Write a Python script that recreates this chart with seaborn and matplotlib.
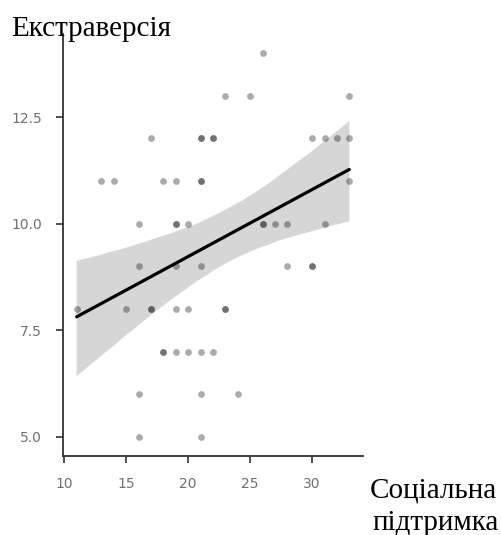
import numpy as np
import pandas as pd
import matplotlib
matplotlib.use("Agg")
import matplotlib.pyplot as plt
import seaborn as sns
from matplotlib.collections import PolyCollection

# Social support (x) and extraversion (y) scores, one entry per respondent
support = [26,
           23, 25, 33,
           17, 21, 21, 22, 22, 30, 31, 32, 33,
           13, 14, 18, 19, 21, 21, 33,
           16, 19, 19, 20, 26, 26, 27, 28, 31,
           16, 19, 21, 28, 30, 30,
           11, 15, 17, 17, 19, 20, 23, 23,
           18, 18, 19, 20, 21, 22,
           16, 21, 24,
           16, 21]
extraversion = [14,
                13, 13, 13,
                12, 12, 12, 12, 12, 12, 12, 12, 12,
                11, 11, 11, 11, 11, 11, 11,
                10, 10, 10, 10, 10, 10, 10, 10, 10,
                9, 9, 9, 9, 9, 9,
                8, 8, 8, 8, 8, 8, 8, 8,
                7, 7, 7, 7, 7, 7,
                6, 6, 6,
                5, 5]

x_ticks = [10, 15, 20, 25, 30]
y_ticks = [5.0, 7.5, 10.0, 12.5]

df = pd.DataFrame({"support": support, "extraversion": extraversion})

sns.set_theme(style="ticks")
fig = plt.figure(figsize=(5.02, 5.35), dpi=100)
ax = fig.add_axes([0.1255, 0.1477, 0.5975, 0.7887])

sns.regplot(data=df, x="support", y="extraversion", ax=ax, ci=98,
            n_boot=12000, seed=3,
            scatter_kws=dict(s=24, color="black", alpha=0.33, linewidths=0, zorder=3),
            line_kws=dict(color="black", lw=2.3, zorder=4))

for coll in ax.collections:
    if isinstance(coll, PolyCollection):
        coll.set_facecolor("#d6d6d6")
        coll.set_alpha(1)
        coll.set_edgecolor("none")
        coll.set_zorder(1)

ax.set_xlim(9.9, 34.1)
ax.set_ylim(4.55, 14.45)
ax.set_xticks(x_ticks)
ax.set_xticklabels([str(t) for t in x_ticks])
ax.set_yticks(y_ticks)
ax.set_yticklabels([f"{t:.1f}" for t in y_ticks])
ax.set_xlabel("")
ax.set_ylabel("")

for side in ("top", "right"):
    ax.spines[side].set_visible(False)
for side in ("left", "bottom"):
    ax.spines[side].set_color("#333333")
    ax.spines[side].set_linewidth(1.3)

ax.tick_params(axis="both", direction="out", length=5, width=1.2,
               color="#333333", labelcolor="#707070", labelsize=10, pad=10)
for lab in ax.get_xticklabels() + ax.get_yticklabels():
    lab.set_family("DejaVu Sans")

serif = ["Liberation Serif", "DejaVu Serif"]
fig.text(0.022, 0.9327, "Екстраверсія", family=serif, fontsize=21,
         color="black", ha="left", va="baseline")
fig.text(0.737, 0.0692, "Соціальна", family=serif, fontsize=21,
         color="black", ha="left", va="baseline")
fig.text(0.743, 0.0093, "підтримка", family=serif, fontsize=21,
         color="black", ha="left", va="baseline")

fig.savefig("out.png", dpi=100)
